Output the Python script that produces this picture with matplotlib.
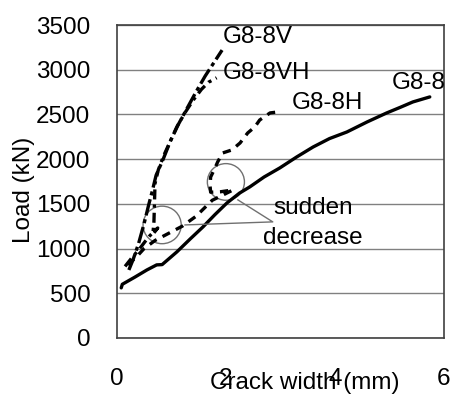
import matplotlib.pyplot as plt
from matplotlib.patches import Ellipse

plt.rcParams['font.family'] = ['Liberation Sans', 'DejaVu Sans']

# crack width (mm) vs load (kN) for each specimen
g88_x = [0.08, 0.10, 0.33, 0.55, 0.73, 0.83, 1.10, 1.35, 1.58, 1.80, 2.02, 2.25,
         2.44, 2.70, 2.99, 3.30, 3.60, 3.90, 4.22, 4.59, 4.95, 5.20, 5.43, 5.74]
g88_y = [560, 600, 680, 760, 817, 820, 962, 1110, 1242, 1380, 1510, 1620,
         1690, 1800, 1902, 2025, 2136, 2230, 2304, 2416, 2517, 2580, 2640, 2696]

g88v_x = [0.22, 0.30, 0.40, 0.50, 0.58, 0.64, 0.72, 0.85, 0.98, 1.12, 1.28,
          1.45, 1.62, 1.78, 1.93]
g88v_y = [760, 880, 1060, 1280, 1480, 1620, 1820, 2000, 2200, 2380, 2560,
          2750, 2930, 3080, 3220]

g88vh_x = [0.15, 0.28, 0.42, 0.52, 0.60, 0.68, 0.75, 0.66, 0.68, 0.70, 0.76,
           0.86, 0.98, 1.10, 1.25, 1.40, 1.55, 1.68, 1.83]
g88vh_y = [800, 900, 1000, 1080, 1140, 1190, 1230, 1160, 1300, 1730, 1880,
           2040, 2200, 2360, 2520, 2660, 2780, 2860, 2910]

g88h_x = [0.20, 0.35, 0.50, 0.70, 0.95, 1.20, 1.45, 1.75, 1.95, 2.13, 1.90,
          1.72, 1.71, 1.72, 1.80, 1.85, 1.94, 2.11, 2.26, 2.40, 2.53, 2.62,
          2.81, 2.95]
g88h_y = [820, 900, 1000, 1090, 1170, 1250, 1360, 1540, 1600, 1655, 1635,
          1630, 1700, 1800, 1900, 1970, 2069, 2103, 2181, 2293, 2360, 2438,
          2517, 2528]

fig = plt.figure(figsize=(4.53, 3.98), dpi=100)
ax = fig.add_axes([0.258, 0.151, 0.722, 0.786])

ax.plot(g88_x, g88_y, color='black', lw=2.4, solid_capstyle='round')
ax.plot(g88v_x, g88v_y, color='black', lw=2.4, dashes=(5, 1.2, 1.2, 1.2))
ax.plot(g88vh_x, g88vh_y, color='black', lw=2.4, dashes=(3, 1.5, 1, 1.5))
ax.plot(g88h_x, g88h_y, color='black', lw=2.4, dashes=(2.5, 2))

ax.set_xlim(0, 6)
ax.set_ylim(0, 3500)
ax.set_xticks([0, 2, 4, 6])
ax.set_yticks(range(0, 3501, 500))
ax.yaxis.grid(True, color='#808080', lw=1)
ax.set_axisbelow(True)
ax.tick_params(length=0, labelsize=17.5, pad=19)
ax.tick_params(axis='x', pad=22)
for s in ax.spines.values():
    s.set_color('#404040')
    s.set_linewidth(1.2)

# specimen labels
ax.text(1.94, 3367, 'G8-8V', fontsize=17.5, va='center')
ax.text(1.94, 2964, 'G8-8VH', fontsize=17.5, va='center')
ax.text(3.21, 2629, 'G8-8H', fontsize=17.5, va='center')
ax.text(5.05, 2852, 'G8-8', fontsize=17.5, va='center')

# circled sudden drops with pointer lines
ax.add_patch(Ellipse((2.0, 1745), 0.68, 410, fill=False, ec='#707070', lw=1))
ax.add_patch(Ellipse((0.83, 1264), 0.70, 420, fill=False, ec='#707070', lw=1))
ax.plot([2.22, 2.86, 1.25], [1544, 1298, 1264], color='#707070', lw=1)
ax.text(3.6, 1454, 'sudden', fontsize=17.5, ha='center', va='center')
ax.text(3.6, 1119, 'decrease', fontsize=17.5, ha='center', va='center')

fig.text(24 / 453, 1 - 190 / 398, 'Load (kN)', rotation=90, fontsize=17.5,
         ha='center', va='center')
fig.text(305 / 453, 1 - 383 / 398, 'Crack width (mm)', fontsize=17.5,
         ha='center', va='center')

fig.savefig('out.png', dpi=100)
